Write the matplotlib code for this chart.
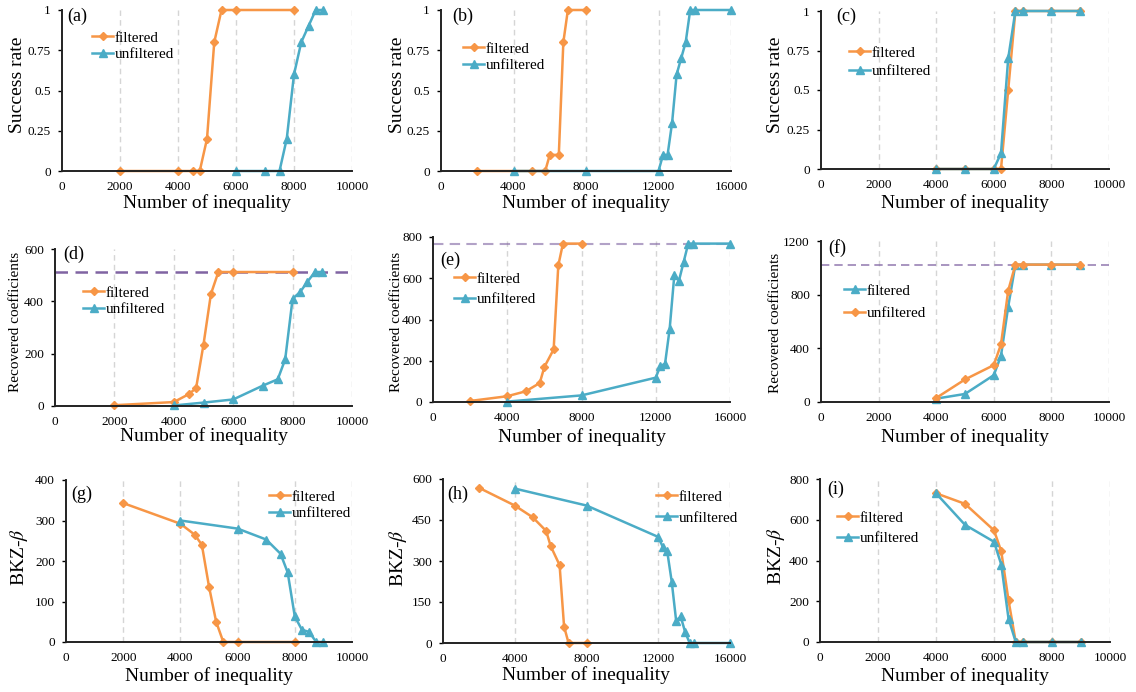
import matplotlib
matplotlib.use("Agg")
import matplotlib.pyplot as plt

plt.rcParams['font.family'] = ['Liberation Serif', 'DejaVu Serif']
plt.rcParams['mathtext.fontset'] = 'stix'

W, H = 1136, 692
ORANGE = '#F79646'
BLUE = '#4BACC6'
PURPLE = '#8064A2'

# ---- data ----
# (a) success rate
a_f_x = [2000, 4000, 4500, 4750, 5000, 5250, 5500, 6000, 8000]
a_f_y = [0, 0, 0, 0, 0.2, 0.8, 1, 1, 1]
a_u_x = [6000, 7000, 7500, 7750, 8000, 8250, 8500, 8750, 9000]
a_u_y = [0, 0, 0, 0.2, 0.6, 0.8, 0.9, 1, 1]
# (b)
b_f_x = [2000, 5000, 5750, 6000, 6500, 6750, 7000, 8000]
b_f_y = [0, 0, 0, 0.1, 0.1, 0.8, 1, 1]
b_u_x = [4000, 8000, 12000, 12250, 12500, 12750, 13000, 13250, 13500, 13750, 14000, 16000]
b_u_y = [0, 0, 0, 0.1, 0.1, 0.3, 0.6, 0.7, 0.8, 1, 1, 1]
# (c)
c_f_x = [4000, 5000, 6000, 6250, 6500, 6750, 7000, 8000, 9000]
c_f_y = [0, 0, 0, 0, 0.5, 1, 1, 1, 1]
c_u_x = [4000, 5000, 6000, 6250, 6500, 6750, 7000, 8000, 9000]
c_u_y = [0, 0, 0, 0.1, 0.7, 1, 1, 1, 1]
# (d) recovered coefficients, total 512
d_f_x = [2000, 4000, 4500, 4750, 5000, 5250, 5500, 6000, 8000]
d_f_y = [3, 15, 45, 68, 235, 428, 512, 512, 512]
d_u_x = [4000, 5000, 6000, 7000, 7500, 7750, 8000, 8250, 8500, 8750, 9000]
d_u_y = [2, 13, 25, 78, 102, 178, 410, 435, 475, 512, 512]
# (e) total 768
e_f_x = [2000, 4000, 5000, 5750, 6000, 6500, 6750, 7000, 8000]
e_f_y = [5, 28, 52, 92, 170, 255, 662, 768, 768]
e_u_x = [4000, 8000, 12000, 12250, 12500, 12750, 13000, 13250, 13500, 13750, 14000, 16000]
e_u_y = [2, 32, 118, 175, 185, 355, 615, 588, 678, 768, 768, 768]
# (f) total 1024 (legend order as printed: blue "filtered", orange "unfiltered")
f_b_x = [4000, 5000, 6000, 6250, 6500, 6750, 7000, 8000, 9000]
f_b_y = [25, 60, 200, 345, 710, 1024, 1024, 1024, 1024]
f_o_x = [4000, 5000, 6000, 6250, 6500, 6750, 7000, 8000, 9000]
f_o_y = [30, 168, 275, 430, 830, 1024, 1024, 1024, 1024]
# (g) BKZ block size
g_f_x = [2000, 4000, 4500, 4750, 5000, 5250, 5500, 6000, 8000]
g_f_y = [343, 292, 265, 240, 137, 50, 0, 0, 0]
g_u_x = [4000, 6000, 7000, 7500, 7750, 8000, 8250, 8500, 8750, 9000]
g_u_y = [300, 280, 253, 218, 172, 63, 30, 25, 0, 0]
# (h)
h_f_x = [2000, 4000, 5000, 5750, 6000, 6500, 6750, 7000, 8000]
h_f_y = [568, 503, 460, 410, 355, 285, 60, 0, 0]
h_u_x = [4000, 8000, 12000, 12250, 12500, 12750, 13000, 13250, 13500, 13750, 14000, 16000]
h_u_y = [565, 503, 388, 352, 335, 225, 80, 97, 40, 0, 0, 0]
# (i)
i_f_x = [4000, 5000, 6000, 6250, 6500, 6750, 7000, 8000, 9000]
i_f_y = [730, 678, 548, 445, 205, 0, 0, 0, 0]
i_u_x = [4000, 5000, 6000, 6250, 6500, 6750, 7000, 8000, 9000]
i_u_y = [730, 575, 492, 380, 115, 0, 0, 0, 0]

x_ticks_10k = [0, 2000, 4000, 6000, 8000, 10000]
x_ticks_16k = [0, 4000, 8000, 12000, 16000]

fig = plt.figure(figsize=(W / 100, H / 100), dpi=100)


def px_axes(left, top, right, bottom):
    return fig.add_axes([left / W, 1 - bottom / H, (right - left) / W, (bottom - top) / H])


def panel(box, series, xticks, yticks, ylabel, ylab_fs, tag, tag_xy, leg_xy, leg_sp,
          ylab_xy, xlab_y, hline=None, hline_style=None):
    ax = px_axes(*box)
    for xs, ys, c, m, ms, lab in series:
        ax.plot(xs, ys, color=c, marker=m, markersize=ms, linewidth=1.8, label=lab, clip_on=False)
    if hline is not None:
        ax.axhline(hline, color=PURPLE, linestyle=(0, (5, 3)), zorder=1, **hline_style)
    ax.set_xlim(xticks[0], xticks[-1])
    ax.set_ylim(yticks[0], yticks[-1])
    ax.set_xticks(xticks)
    ax.set_yticks(yticks)
    ax.set_yticklabels([('%g' % v) for v in yticks])
    for v in xticks[1:]:
        ax.axvline(v, color='#d5d5d5', linestyle=(0, (4, 3)), linewidth=1, zorder=0)
    for s in ['top', 'right']:
        ax.spines[s].set_visible(False)
    for s in ['left', 'bottom']:
        ax.spines[s].set_linewidth(1.4)
        ax.spines[s].set_color('#222222')
    ax.tick_params(axis='x', length=0, pad=7, labelsize=9.5)
    ax.tick_params(axis='y', length=3, width=1, pad=5, labelsize=9.5, direction='out')
    ax.set_xlabel('Number of inequality', fontsize=14, va='center')
    ax.xaxis.set_label_coords((box[0] + box[2]) / 2 / W, 1 - xlab_y / H, transform=fig.transFigure)
    ax.set_ylabel(ylabel, fontsize=ylab_fs, va='center')
    ax.yaxis.set_label_coords(ylab_xy[0] / W, 1 - ylab_xy[1] / H, transform=fig.transFigure)
    fig.text(tag_xy[0] / W, 1 - tag_xy[1] / H, tag, fontsize=13, ha='left', va='center')
    ax.legend(loc='upper left', bbox_to_anchor=(leg_xy[0] / W, 1 - leg_xy[1] / H),
              bbox_transform=fig.transFigure, frameon=False, borderpad=0, borderaxespad=0,
              handlelength=1.4, handletextpad=0.1, labelspacing=leg_sp, fontsize=11)
    return ax


sr_ticks = [0, 0.25, 0.5, 0.75, 1]
MD, MT = 4.2, 6

panel((62, 10, 352, 171),
      [(a_f_x, a_f_y, ORANGE, 'D', MD, 'filtered'), (a_u_x, a_u_y, BLUE, '^', MT, 'unfiltered')],
      x_ticks_10k, sr_ticks, 'Success rate', 14, '(a)', (67, 16), (92, 31), 0.18, (17.5, 85), 203)
panel((441, 10, 731, 171),
      [(b_f_x, b_f_y, ORANGE, 'D', MD, 'filtered'), (b_u_x, b_u_y, BLUE, '^', MT, 'unfiltered')],
      x_ticks_16k, sr_ticks, 'Success rate', 14, '(b)', (452, 16), (463, 42), 0.18, (397.5, 85), 203)
panel((821, 11, 1109, 169),
      [(c_f_x, c_f_y, ORANGE, 'D', MD, 'filtered'), (c_u_x, c_u_y, BLUE, '^', MT, 'unfiltered')],
      x_ticks_10k, sr_ticks, 'Success rate', 14, '(c)', (836, 16), (849, 46), 0.33, (776, 85), 203)

panel((55, 249, 352, 406),
      [(d_f_x, d_f_y, ORANGE, 'D', MD, 'filtered'), (d_u_x, d_u_y, BLUE, '^', MT, 'unfiltered')],
      x_ticks_10k, [0, 200, 400, 600], 'Recovered coefficients', 11, '(d)', (63, 254), (83, 286), 0.18,
      (16, 322), 436, hline=512, hline_style=dict(linewidth=1.8, alpha=1.0))
panel((433, 237, 730, 402),
      [(e_f_x, e_f_y, ORANGE, 'D', MD, 'filtered'), (e_u_x, e_u_y, BLUE, '^', MT, 'unfiltered')],
      x_ticks_16k, [0, 200, 400, 600, 800], 'Recovered coefficients', 11, '(e)', (440, 260), (454, 272), 0.43,
      (396, 322), 437, hline=768, hline_style=dict(linewidth=1.5, alpha=0.6))
panel((821, 241, 1109, 402),
      [(f_b_x, f_b_y, BLUE, '^', MT, 'filtered'), (f_o_x, f_o_y, ORANGE, 'D', MD, 'unfiltered')],
      x_ticks_10k, [0, 400, 800, 1200], 'Recovered coefficients', 11, '(f)', (828, 248), (844, 284), 0.58,
      (775.5, 323), 437, hline=1024, hline_style=dict(linewidth=1.2, alpha=0.8))

panel((66, 480, 352, 642),
      [(g_f_x, g_f_y, ORANGE, 'D', MD, 'filtered'), (g_u_x, g_u_y, BLUE, '^', MT, 'unfiltered')],
      x_ticks_10k, [0, 100, 200, 300, 400], 'BKZ-$\\beta$', 14, '(g)', (71, 494), (269, 490), 0.18,
      (18.5, 557), 676)
panel((443, 479, 730, 643),
      [(h_f_x, h_f_y, ORANGE, 'D', MD, 'filtered'), (h_u_x, h_u_y, BLUE, '^', MT, 'unfiltered')],
      x_ticks_16k, [0, 150, 300, 450, 600], 'BKZ-$\\beta$', 14, '(h)', (447, 494), (656, 490), 0.48,
      (398, 558), 675)
panel((820, 479, 1110, 642),
      [(i_f_x, i_f_y, ORANGE, 'D', MD, 'filtered'), (i_u_x, i_u_y, BLUE, '^', MT, 'unfiltered')],
      x_ticks_10k, [0, 200, 400, 600, 800], 'BKZ-$\\beta$', 14, '(i)', (827, 489), (837, 511), 0.43,
      (776, 556), 676)

fig.savefig('out.png', dpi=100)
